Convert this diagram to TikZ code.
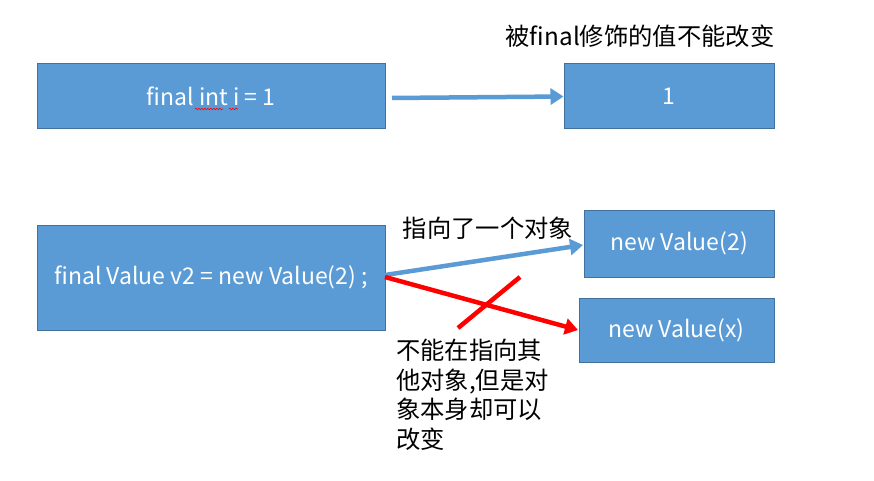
\documentclass[tikz,border=0pt]{standalone}
\usepackage{fontspec}
\setmainfont{Noto Sans CJK SC}
\usetikzlibrary{arrows.meta,decorations.pathmorphing}
\definecolor{boxfill}{HTML}{5B9BD5}
\definecolor{boxline}{HTML}{41719C}
\definecolor{arrblue}{HTML}{5B9BD5}
\tikzset{
  vbox/.style={draw=boxline, line width=1pt, fill=boxfill, text=white, inner sep=0pt,
    font=\fontsize{23}{26}\selectfont},
  label/.style={text=black, inner sep=0pt, font=\fontsize{24.3}{29.5}\selectfont},
  barrow/.style={draw=arrblue, line width=4.5pt, -{Triangle[length=13pt,width=16pt]}},
  rarrow/.style={draw=red, line width=4.5pt, -{Triangle[length=13pt,width=16pt]}},
  squiggle/.style={draw=red, line width=0.6pt, decorate, decoration={snake, amplitude=0.8pt, segment length=3pt}}
}
\begin{document}
\begin{tikzpicture}[x=1pt,y=-1pt]
\useasboundingbox (0,0) rectangle (874,481);
\fill[white] (0,0) rectangle (874,481);
\node[vbox, minimum width=348pt, minimum height=65pt] (a) at (211,96.5) {final int i = 1};
\node[vbox, minimum width=210pt, minimum height=65pt] (b) at (669,96.5) {1};
\node[vbox, minimum width=348pt, minimum height=105pt] (c) at (211,277.5) {final Value v2 = new Value(2) ;};
\node[vbox, minimum width=190pt, minimum height=67pt] (d) at (679,243.5) {new Value(2)};
\node[vbox, minimum width=195pt, minimum height=64pt] (e) at (676.5,330) {new Value(x)};
\node[label] (t1) at (640,36) {被final修饰的值不能改变};
\node[label] (t2) at (488,228) {指向了一个对象};
\node[label, align=left, anchor=north west] (t3) at (396,339) {不能在指向其\\他对象,但是对\\象本身却可以\\改变};
\coordinate (a1) at (392,98);
\draw[barrow] (a1) -- (b.west);
\coordinate (c1) at (385,275);
\coordinate (c2) at (385,277);
\coordinate (d1) at (583,245);
\coordinate (e1) at (578,330);
\draw[barrow] (c1) -- (d1);
\draw[rarrow] (c2) -- (e1);
\coordinate (x1) at (458,328);
\coordinate (x2) at (520,277);
\draw[draw=red, line width=4.5pt] (x1) -- (x2);
\coordinate (s1) at (195,109);
\coordinate (s2) at (223,109);
\coordinate (s3) at (229,109);
\coordinate (s4) at (238,109);
\draw[squiggle] (s1) -- (s2);
\draw[squiggle] (s3) -- (s4);
\end{tikzpicture}
\end{document}
